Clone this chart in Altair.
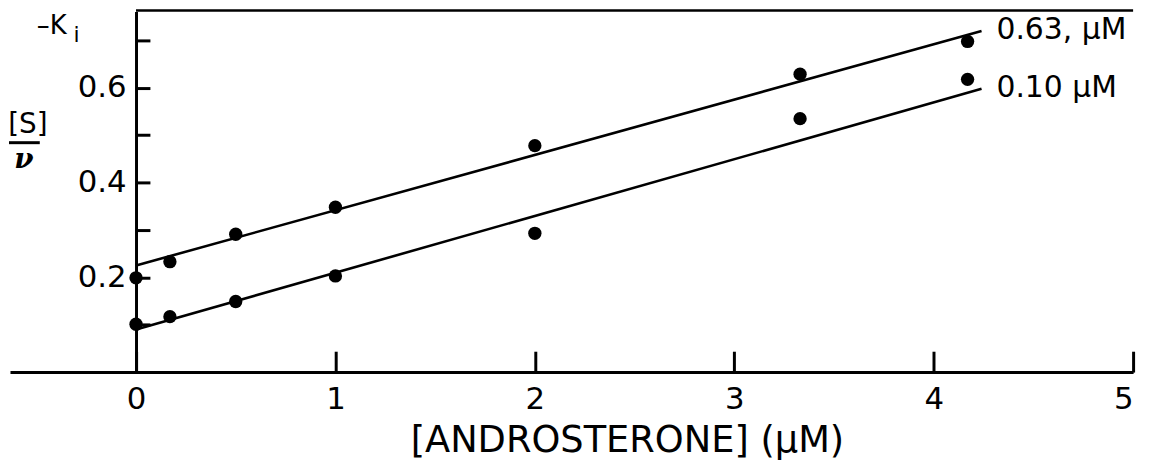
import altair as alt
import pandas as pd

# ---- data ----
x_conc = [0.0, 0.17, 0.5, 1.0, 2.0, 3.33, 4.17]
y_063 = [0.199, 0.233, 0.291, 0.348, 0.478, 0.629, 0.698]
y_010 = [0.101, 0.117, 0.149, 0.203, 0.293, 0.535, 0.618]
series_names = ["0.63, μM", "0.10 μM"]
fit_x = [0.0, 4.24]
fit_063 = [0.225, 0.720]
fit_010 = [0.090, 0.598]
x_ticks = [0, 1, 2, 3, 4, 5]
y_ticks = [0.1, 0.2, 0.3, 0.4, 0.5, 0.6, 0.7]

pts = pd.DataFrame({
    "x": x_conc + x_conc,
    "y": y_063 + y_010,
    "series": [series_names[0]] * len(x_conc) + [series_names[1]] * len(x_conc),
})
fit = pd.DataFrame({
    "x": fit_x + fit_x,
    "y": fit_063 + fit_010,
    "series": [series_names[0]] * 2 + [series_names[1]] * 2,
})
ends = pd.DataFrame({
    "x": [fit_x[-1], fit_x[-1]],
    "y": [fit_063[-1], fit_010[-1]],
    "label": series_names,
})
frame = pd.DataFrame({"x0": [0], "x1": [5]})

# ---- layout ----
W, H = 1131, 363
XMIN, XMAX = -0.632, 5
YMAX = 0.761
zero_px = W * (-XMIN) / (XMAX - XMIN)
FONT = "DejaVu Sans"
WEIGHT = "normal"

xscale = alt.Scale(domain=[XMIN, XMAX], nice=False, zero=False)
yscale = alt.Scale(domain=[0, YMAX], nice=False)

x_axis_labels = alt.Axis(
    orient="bottom", values=x_ticks, format="d", ticks=False, tickSize=0,
    grid=False, domain=True, domainColor="black", domainWidth=3,
    labelFont=FONT, labelFontSize=31, labelFontWeight=WEIGHT,
    labelColor="black", labelPadding=13,
    title="[ANDROSTERONE] (μM)", titleFont=FONT, titleFontSize=37,
    titleFontWeight=WEIGHT, titleColor="black", titleAnchor="start",
    titleAlign="left", titleBaseline="alphabetic", titleX=403, titleY=80,
)
x_axis_ticks = alt.Axis(
    orient="top", offset=-H, values=x_ticks, labels=False, ticks=True,
    tickSize=21, tickWidth=3, tickColor="black", grid=False, domain=False,
    title=None,
)
y_axis_labels = alt.Axis(
    orient="left", offset=-zero_px, values=y_ticks, ticks=False, tickSize=0,
    grid=False, domain=False, labelFont=FONT, labelFontSize=31,
    labelFontWeight=WEIGHT, labelColor="black", labelPadding=10,
    labelExpr="round(datum.value*10)%2==0 ? format(datum.value,'.1f') : ''",
    title=None,
)
y_axis_ticks = alt.Axis(
    orient="right", offset=-(W - zero_px), values=y_ticks, labels=False,
    ticks=True, tickSize=14, tickWidth=3, tickColor="black", grid=False,
    domain=True, domainColor="black", domainWidth=3, title=None,
)

points = alt.Chart(pts).mark_circle(size=180, color="black", opacity=1).encode(
    x=alt.X("x:Q", scale=xscale, axis=x_axis_labels),
    y=alt.Y("y:Q", scale=yscale, axis=y_axis_labels),
    detail="series:N",
)
lines = alt.Chart(fit).mark_line(color="black", strokeWidth=2.6).encode(
    x=alt.X("x:Q", scale=xscale, axis=x_axis_ticks),
    y=alt.Y("y:Q", scale=yscale, axis=y_axis_ticks),
    detail="series:N",
)
labels = alt.Chart(ends).mark_text(
    align="left", baseline="middle", dx=15, dy=-1, fontSize=30, font=FONT,
    fontWeight=WEIGHT, color="black",
).encode(
    x=alt.X("x:Q", scale=xscale, axis=None),
    y=alt.Y("y:Q", scale=yscale, axis=None),
    text="label:N",
)
top_line = alt.Chart(frame).mark_rule(color="black", strokeWidth=2.5).encode(
    x=alt.X("x0:Q", scale=xscale, axis=None),
    x2="x1:Q",
    y=alt.value(-1),
)

ki = alt.Chart(frame).mark_text(text="–K", align="left", baseline="alphabetic",
                                fontSize=26, font=FONT, fontWeight=WEIGHT,
                                color="black").encode(
    x=alt.value(27), y=alt.value(23))
ki_sub = alt.Chart(frame).mark_text(text="i", align="left", baseline="alphabetic",
                                    fontSize=22, font=FONT, fontWeight=WEIGHT,
                                    color="black").encode(
    x=alt.value(64), y=alt.value(31))
s_lab = alt.Chart(frame).mark_text(text="[S]", align="center", baseline="alphabetic",
                                   fontSize=28, font=FONT, fontWeight=WEIGHT,
                                   color="black").encode(
    x=alt.value(18), y=alt.value(122))
bar = alt.Chart(frame).mark_rule(color="black", strokeWidth=3).encode(
    x=alt.value(-1), x2=alt.value(30), y=alt.value(132))
nu = alt.Chart(frame).mark_text(text="ν", align="center", baseline="alphabetic",
                                fontSize=28, font="DejaVu Serif", fontStyle="italic",
                                fontWeight="bold", color="black").encode(
    x=alt.value(14), y=alt.value(157))

chart = alt.layer(
    points, lines, labels, top_line, ki, ki_sub, s_lab, bar, nu
).resolve_axis(x="independent", y="independent").properties(
    width=W, height=H,
    autosize=alt.AutoSizeParams(type="none"),
    padding={"left": 2, "top": 2, "right": 14, "bottom": 100},
    background="white",
).configure_view(stroke=None)

chart.save("out.html", embed_options={"renderer": "svg", "actions": False})
